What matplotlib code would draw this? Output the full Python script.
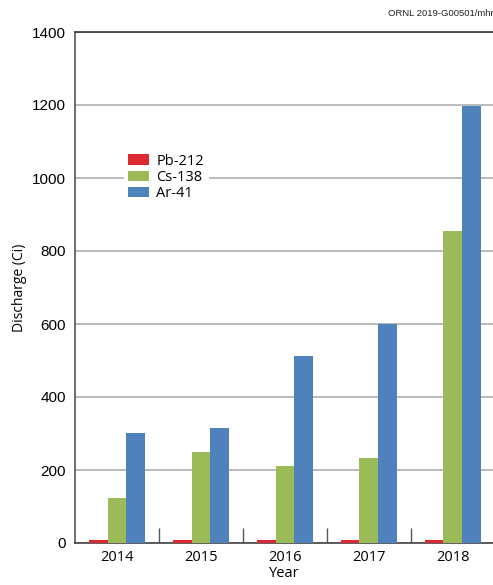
import numpy as np
import matplotlib
matplotlib.use("Agg")
import matplotlib.pyplot as plt

years = ["2014", "2015", "2016", "2017", "2018"]
pb212 = [8, 9, 9, 9, 8]
cs138 = [124, 250, 210, 232, 856]
ar41 = [302, 316, 513, 601, 1197]

colors = ["#dc2a32", "#9bbb59", "#4f81bd"]
labels = ["Pb-212", "Cs-138", "Ar-41"]

fig = plt.figure(figsize=(4.93, 5.85), dpi=100)
ax = fig.add_axes([75/493, 1 - 543/585, (493 - 75)/493, (543 - 32)/585])

x = np.arange(len(years))
w = 0.222
for i, (vals, c, lab) in enumerate(zip([pb212, cs138, ar41], colors, labels)):
    ax.bar(x + (i - 1) * w, vals, w, color=c, label=lab, zorder=3)

ax.set_ylim(0, 1400)
ax.set_xlim(-0.5, 4.48)
ax.set_yticks(range(0, 1401, 200))
ax.yaxis.grid(True, color="#a8a8a8", linewidth=1.1, zorder=0)
ax.axhline(1400, color="#333333", linewidth=1.2, zorder=4, clip_on=False)

ax.set_xticks(x)
ax.set_xticklabels(years, family="Open Sans", fontsize=10.5)
ax.set_xticks([0.5, 1.5, 2.5, 3.5], minor=True)
ax.tick_params(axis="x", which="major", length=0, pad=5)
ax.tick_params(axis="x", which="minor", direction="in", length=11, width=1, color="#555555")
ax.tick_params(axis="y", length=0, pad=6.5, labelsize=11)
for t in ax.get_yticklabels():
    t.set_family("Liberation Sans")

for s in ["top", "right"]:
    ax.spines[s].set_visible(False)
ax.spines["left"].set_color("#555555")
ax.spines["left"].set_linewidth(1.2)
ax.spines["bottom"].set_color("#444444")
ax.spines["bottom"].set_linewidth(1.2)

ax.set_ylabel("Discharge (Ci)", family="Open Sans", fontsize=10)
ax.yaxis.set_label_coords((27 - 75) / 418, 0.5)
ax.set_xlabel("Year", family="Open Sans", fontsize=10.5)
ax.xaxis.set_label_coords(0.5, -(566 - 543) / 511)

leg = ax.legend(loc="upper left", bbox_to_anchor=(0.10, 0.785), frameon=True,
                prop={"family": "Open Sans", "size": 10.5}, handlelength=1.4,
                handleheight=0.7, handletextpad=0.5, labelspacing=0.1,
                borderpad=0.3, fancybox=False)
leg.get_frame().set_edgecolor("white")
leg.get_frame().set_facecolor("white")
leg.get_frame().set_alpha(1)
leg.set_zorder(5)

fig.text(388 / 493, 1 - 14 / 585, "ORNL 2019-G00501/mhr", fontsize=6.8, ha="left",
         va="center", family="Liberation Sans", color="#222222")

fig.savefig("out.png", dpi=100)
